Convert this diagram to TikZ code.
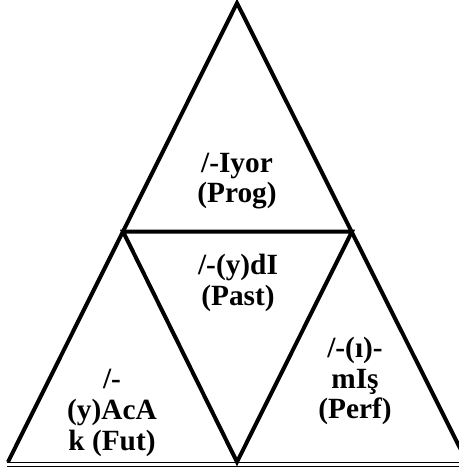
\documentclass[tikz,border=0pt]{standalone}
\usepackage{fontspec}
\setmainfont{Liberation Serif}
\begin{document}
\begin{tikzpicture}[x=0.75pt,y=-0.75pt,
  edge/.style={line width=3pt,line cap=butt,line join=miter},
  baseline/.style={line width=1.2pt},
  lbl/.style={font=\bfseries\fontsize{22}{23}\selectfont,align=center,inner sep=0pt}]
\useasboundingbox (0,0) rectangle (459,471);
\clip (0,0) rectangle (459,471);
\coordinate (apex) at (237,3);
\coordinate (bl) at (8,462);
\coordinate (br) at (467,462);
\coordinate (ml) at (123,231.5);
\coordinate (mr) at (352,231.5);
\coordinate (mb) at (237,462);
\coordinate (b1l) at (7,462.5);
\coordinate (b1r) at (459,462.5);
\coordinate (b2l) at (7,466.5);
\coordinate (b2r) at (459,466.5);
\draw[edge] (bl) -- (apex) -- (br);
\draw[edge] (ml) -- (mr) -- (mb) -- cycle;
\draw[baseline] (b1l) -- (b1r);
\draw[baseline] (b2l) -- (b2r);
\node[lbl] (prog) at (237,181) {/-Iyor\\(Prog)};
\node[lbl] (past) at (238,283) {/-(y)dI\\(Past)};
\node[lbl] (fut) at (112,413) {/-\\(y)AcA\\k (Fut)};
\node[lbl] (perf) at (355,381) {/-(ı)-\\mIş\\(Perf)};
\end{tikzpicture}
\end{document}
